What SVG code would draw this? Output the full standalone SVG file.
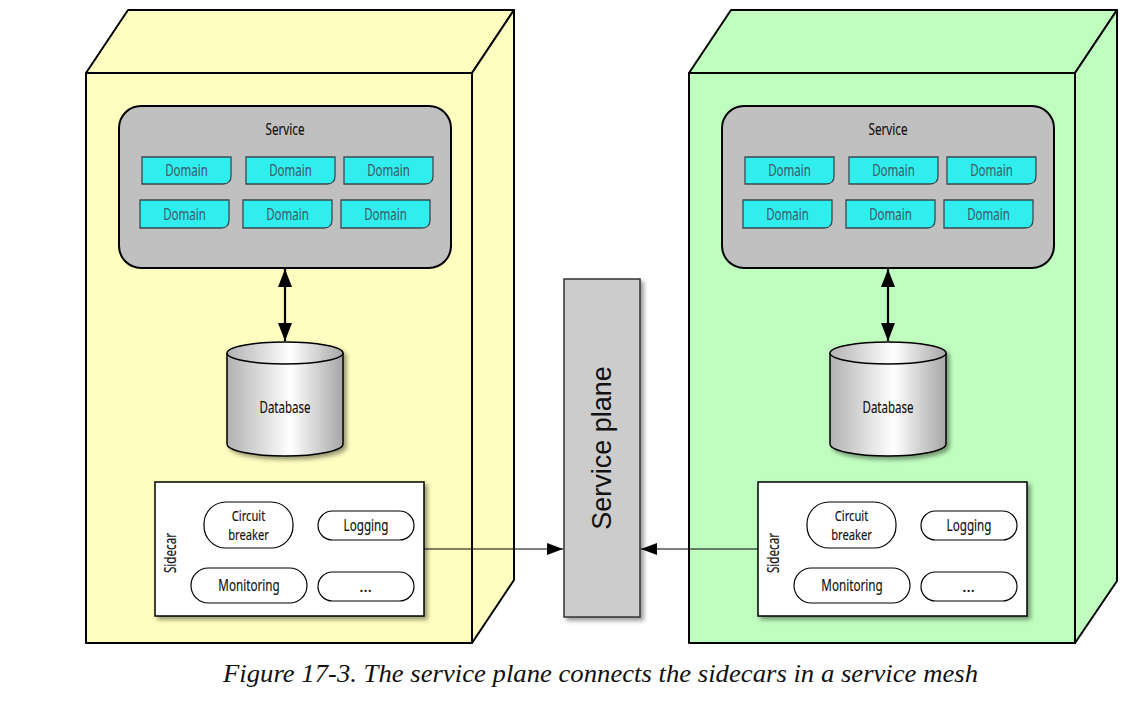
<svg xmlns="http://www.w3.org/2000/svg" width="1131" height="706" viewBox="0 0 1131 706">
  <defs>
    <style>
      .box { stroke: #000; stroke-width: 2; stroke-linejoin: round; }
      .yellow { fill: #FFFEC0; }
      .green { fill: #C0FEC0; }
      .service { fill: #C0C0C0; stroke: #000; stroke-width: 2; }
      .domain { fill: #30EEEE; stroke: #3a4a50; stroke-width: 1.3; }
      .lbl { font-family: "Noto Sans", "Liberation Sans", sans-serif; font-size: 16px; fill: #111; stroke: #111; stroke-width: 0.15; text-anchor: middle; }
      .small { font-size: 14px; }
      .dlbl { font-family: "Noto Sans", "Liberation Sans", sans-serif; font-size: 16px; fill: #3d5d6a; stroke: #3d5d6a; stroke-width: 0.1; text-anchor: middle; }
      .pill { fill: #fff; stroke: #000; stroke-width: 1.2; }
      .sidecar { fill: #fff; stroke: #000; stroke-width: 1.5; }
      .db { fill: url(#dbGrad); stroke: #000; stroke-width: 1.5; }
      .conn { stroke: #000; fill: none; }
    </style>
    <linearGradient id="dbGrad" x1="0" y1="0" x2="1" y2="0">
      <stop offset="0" stop-color="#b2b2b2"/>
      <stop offset="0.55" stop-color="#ffffff"/>
      <stop offset="1" stop-color="#a6a6a6"/>
    </linearGradient>
    <filter id="shadow" x="-10%" y="-10%" width="130%" height="130%">
      <feDropShadow dx="3" dy="3" stdDeviation="2" flood-color="#000" flood-opacity="0.4"/>
    </filter>
    <marker id="headBig" markerUnits="userSpaceOnUse" markerWidth="18" markerHeight="14" refX="18" refY="7" orient="auto-start-reverse">
      <path d="M0,0 L18,7 L0,14 Z" fill="#000"/>
    </marker>
    <marker id="head" markerUnits="userSpaceOnUse" markerWidth="16" markerHeight="12" refX="16" refY="6" orient="auto">
      <path d="M0,0 L16,6 L0,12 Z" fill="#000"/>
    </marker>
  </defs>

  <rect width="1131" height="706" fill="#fff"/>

  <!-- Left host: 3D box -->
  <g id="host-left">
    <polygon class="box yellow" points="86,73 128,10 514,10 472,73"/>
    <polygon class="box yellow" points="472,73 514,10 514,580 472,643"/>
    <rect class="box yellow" x="86" y="73" width="386" height="570"/>
  </g>

  <!-- Right host: 3D box -->
  <g id="host-right">
    <polygon class="box green" points="689,73 731,10 1117,10 1075,73"/>
    <polygon class="box green" points="1075,73 1117,10 1117,581 1075,643"/>
    <rect class="box green" x="689" y="73" width="386" height="570"/>
  </g>

  <!-- Service plane -->
  <g id="service-plane">
    <rect x="564" y="279" width="76" height="338" fill="#CCCCCC" stroke="#333" stroke-width="1.5" filter="url(#shadow)"/>
    <text transform="translate(611,448) rotate(-90)" font-family="Liberation Sans, Arial, sans-serif" font-size="27" fill="#111" text-anchor="middle">Service plane</text>
  </g>

  <!-- Left service -->
  <g id="service-left">
    <rect class="service" x="119" y="106" width="332" height="162" rx="22" ry="22"/>
    <text class="lbl" transform="translate(285,135) scale(0.73,1)">Service</text>
    <g id="domains-left">
      <path class="domain" d="M142,157 H231 V176 Q231,184 223,184 H142 Z"/>
      <text class="dlbl" transform="translate(186.5,176) scale(0.72,1)">Domain</text>
      <path class="domain" d="M246,157 H335 V176 Q335,184 327,184 H246 Z"/>
      <text class="dlbl" transform="translate(290.5,176) scale(0.72,1)">Domain</text>
      <path class="domain" d="M344,157 H433 V176 Q433,184 425,184 H344 Z"/>
      <text class="dlbl" transform="translate(388.5,176) scale(0.72,1)">Domain</text>
      <path class="domain" d="M140,200 H229 V220 Q229,228 221,228 H140 Z"/>
      <text class="dlbl" transform="translate(184.5,220) scale(0.72,1)">Domain</text>
      <path class="domain" d="M243,200 H332 V220 Q332,228 324,228 H243 Z"/>
      <text class="dlbl" transform="translate(287.5,220) scale(0.72,1)">Domain</text>
      <path class="domain" d="M341,200 H430 V220 Q430,228 422,228 H341 Z"/>
      <text class="dlbl" transform="translate(385.5,220) scale(0.72,1)">Domain</text>
    </g>
  </g>

  <!-- Right service -->
  <g id="service-right">
    <rect class="service" x="722" y="106" width="332" height="162" rx="22" ry="22"/>
    <text class="lbl" transform="translate(888,135) scale(0.73,1)">Service</text>
    <g id="domains-right">
      <path class="domain" d="M745,157 H834 V176 Q834,184 826,184 H745 Z"/>
      <text class="dlbl" transform="translate(789.5,176) scale(0.72,1)">Domain</text>
      <path class="domain" d="M849,157 H938 V176 Q938,184 930,184 H849 Z"/>
      <text class="dlbl" transform="translate(893.5,176) scale(0.72,1)">Domain</text>
      <path class="domain" d="M947,157 H1036 V176 Q1036,184 1028,184 H947 Z"/>
      <text class="dlbl" transform="translate(991.5,176) scale(0.72,1)">Domain</text>
      <path class="domain" d="M743,200 H832 V220 Q832,228 824,228 H743 Z"/>
      <text class="dlbl" transform="translate(787.5,220) scale(0.72,1)">Domain</text>
      <path class="domain" d="M846,200 H935 V220 Q935,228 927,228 H846 Z"/>
      <text class="dlbl" transform="translate(890.5,220) scale(0.72,1)">Domain</text>
      <path class="domain" d="M944,200 H1033 V220 Q1033,228 1025,228 H944 Z"/>
      <text class="dlbl" transform="translate(988.5,220) scale(0.72,1)">Domain</text>
    </g>
  </g>

  <!-- Left database -->
  <g id="database-left">
    <g filter="url(#shadow)">
      <path class="db" d="M227,353 V444 A58,12 0 0 0 343,444 V353"/>
      <ellipse class="db" cx="285" cy="353" rx="58" ry="11"/>
    </g>
    <text class="lbl" transform="translate(285,413) scale(0.72,1)">Database</text>
  </g>

  <!-- Right database -->
  <g id="database-right">
    <g filter="url(#shadow)">
      <path class="db" d="M830,353 V444 A58,12 0 0 0 946,444 V353"/>
      <ellipse class="db" cx="888" cy="353" rx="58" ry="11"/>
    </g>
    <text class="lbl" transform="translate(888,413) scale(0.72,1)">Database</text>
  </g>

  <!-- Left sidecar -->
  <g id="sidecar-left">
    <rect class="sidecar" x="155" y="482" width="269" height="134" filter="url(#shadow)"/>
    <text class="lbl" transform="translate(176,553) rotate(-90) scale(0.73,1)">Sidecar</text>
    <rect class="pill" x="204" y="502" width="89" height="46" rx="22" ry="22"/>
    <text class="lbl small" transform="translate(248.5,521) scale(0.8,1)"><tspan x="0" y="0">Circuit</tspan><tspan x="0" y="19.5">breaker</tspan></text>
    <rect class="pill" x="318" y="511" width="96" height="29" rx="14.5" ry="14.5"/>
    <text class="lbl" transform="translate(366,531) scale(0.73,1)">Logging</text>
    <rect class="pill" x="191" y="568" width="116" height="35" rx="17.5" ry="17.5"/>
    <text class="lbl" transform="translate(249,591) scale(0.73,1)">Monitoring</text>
    <rect class="pill" x="318" y="572" width="96" height="29" rx="14.5" ry="14.5"/>
    <text class="lbl" x="366" y="592" letter-spacing="1">…</text>
  </g>

  <!-- Right sidecar -->
  <g id="sidecar-right">
    <rect class="sidecar" x="758" y="482" width="269" height="134" filter="url(#shadow)"/>
    <text class="lbl" transform="translate(779,553) rotate(-90) scale(0.73,1)">Sidecar</text>
    <rect class="pill" x="807" y="502" width="89" height="46" rx="22" ry="22"/>
    <text class="lbl small" transform="translate(851.5,521) scale(0.8,1)"><tspan x="0" y="0">Circuit</tspan><tspan x="0" y="19.5">breaker</tspan></text>
    <rect class="pill" x="921" y="511" width="96" height="29" rx="14.5" ry="14.5"/>
    <text class="lbl" transform="translate(969,531) scale(0.73,1)">Logging</text>
    <rect class="pill" x="794" y="568" width="116" height="35" rx="17.5" ry="17.5"/>
    <text class="lbl" transform="translate(852,591) scale(0.73,1)">Monitoring</text>
    <rect class="pill" x="921" y="572" width="96" height="29" rx="14.5" ry="14.5"/>
    <text class="lbl" x="969" y="592" letter-spacing="1">…</text>
  </g>

  <!-- Connectors -->
  <g id="connectors">
    <line class="conn" x1="285" y1="269" x2="285" y2="341" stroke-width="2.2" marker-start="url(#headBig)" marker-end="url(#headBig)"/>
    <line class="conn" x1="888" y1="269" x2="888" y2="341" stroke-width="2.2" marker-start="url(#headBig)" marker-end="url(#headBig)"/>
    <line class="conn" x1="424" y1="549" x2="563" y2="549" stroke-width="1.2" marker-end="url(#head)"/>
    <line class="conn" x1="758" y1="549" x2="641" y2="549" stroke-width="1.2" marker-end="url(#head)"/>
  </g>

  <!-- Caption -->
  <text x="223" y="682" font-family="Liberation Serif, 'Times New Roman', serif" font-style="italic" font-size="26" fill="#111" textLength="755" lengthAdjust="spacingAndGlyphs">Figure 17-3. The service plane connects the sidecars in a service mesh</text>
</svg>
